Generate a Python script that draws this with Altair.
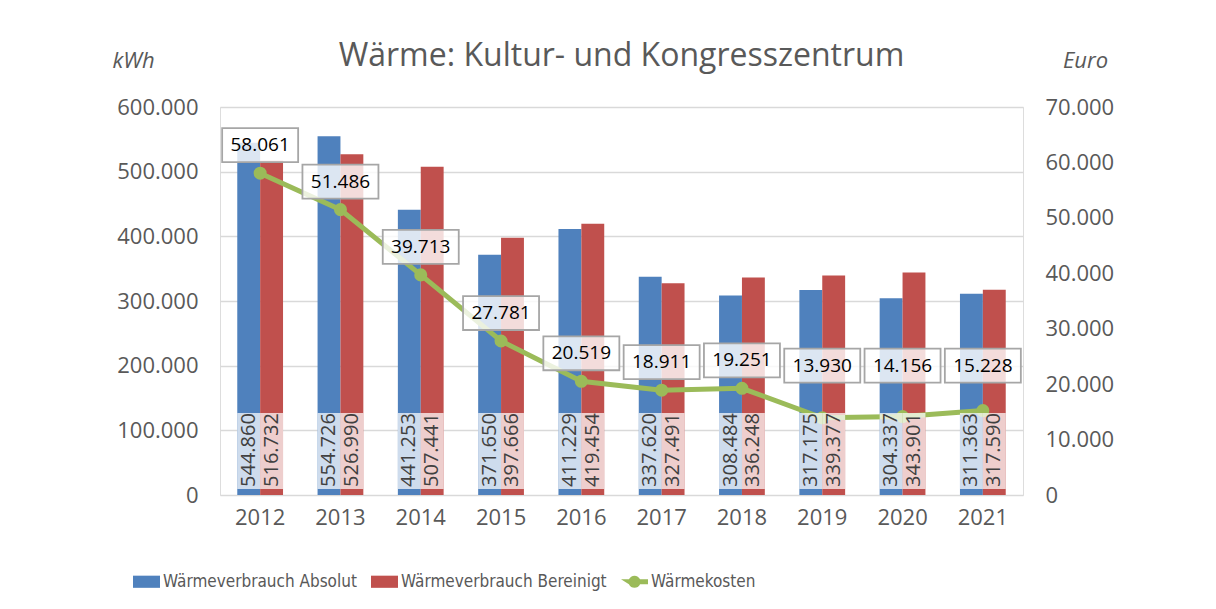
import altair as alt
import pandas as pd

# ---------------- data ----------------
years = ["2012", "2013", "2014", "2015", "2016", "2017", "2018", "2019", "2020", "2021"]
absolut = [544860, 554726, 441253, 371650, 411229, 337620, 308484, 317175, 304337, 311363]
bereinigt = [516732, 526990, 507441, 397666, 419454, 327491, 336248, 339377, 343901, 317590]
kosten = [58061, 51486, 39713, 27781, 20519, 18911, 19251, 13930, 14156, 15228]

SER_ABS = "Wärmeverbrauch Absolut"
SER_BER = "Wärmeverbrauch Bereinigt"
SER_COST = "Wärmekosten"
series_order = [SER_ABS, SER_BER, SER_COST]

kwh_ticks = [0, 100000, 200000, 300000, 400000, 500000, 600000]
euro_ticks = [0, 10000, 20000, 30000, 40000, 50000, 60000, 70000]


def de(v):
    return f"{v:,}".replace(",", ".")


bars_df = pd.DataFrame({
    "year": years * 2,
    "series": [SER_ABS] * len(years) + [SER_BER] * len(years),
    "kwh": absolut + bereinigt,
})
bars_df["label"] = bars_df["kwh"].map(de)

cost_df = pd.DataFrame({"year": years, "series": SER_COST, "euro": kosten})
cost_df["label"] = cost_df["euro"].map(de)

# ---------------- style ----------------
BLUE, RED, GREEN = "#4F81BD", "#C0504D", "#9BBB59"
GREY = "#595959"
FONT = "Open Sans"
LEG_FONT = "Liberation Sans Narrow, DejaVu Sans Condensed, sans-serif"
GERMAN = "replace(format(datum.value, ','), ',', '.')"

BOX_LO, BOX_HI = 9300, 126800  # kWh band in which bar labels sit
RECT = "M-1,-0.45L1,-0.45L1,0.45L-1,0.45Z"
LINEDOT = ("M-1,-0.18L-0.412,-0.18A0.45,0.45 0 0,1 0.412,-0.18L1,-0.18L1,0.18"
           "L0.412,0.18A0.45,0.45 0 0,1 -0.412,0.18Z")
LABELBOX = "M-1,-0.447L1,-0.447L1,0.447L-1,0.447Z"

kscale = alt.Scale(domain=[0, 600000], nice=False, zero=True)
escale = alt.Scale(domain=[0, 70000], nice=False, zero=True)

xenc = alt.X(
    "year:N",
    sort=years,
    scale=alt.Scale(paddingInner=0.43, paddingOuter=0.215),
    axis=alt.Axis(title=None, labelAngle=0, labelFontSize=22, labelColor=GREY,
                  labelFont=FONT, labelPadding=12, ticks=False, domain=False, grid=False),
)
xoff = alt.XOffset("series:N", scale=alt.Scale(domain=[SER_ABS, SER_BER]))

left_axis = alt.Axis(
    title="kWh", titleAngle=0, titleX=-87, titleY=-47, titleAlign="center",
    titleBaseline="middle", titleFontStyle="italic", titleFontSize=22,
    titleFontWeight="normal", titleColor=GREY, titleFont=FONT,
    values=kwh_ticks, labelExpr=GERMAN, labelFontSize=22, labelColor=GREY,
    labelFont=FONT, labelPadding=22, ticks=False, domain=False,
    grid=True, gridColor="#D9D9D9", gridWidth=1.3,
)
right_axis = alt.Axis(
    title="Euro", orient="right", titleAngle=0, titleX=62, titleY=-47,
    titleAlign="center", titleBaseline="middle", titleFontStyle="italic",
    titleFontSize=22, titleFontWeight="normal", titleColor=GREY, titleFont=FONT,
    values=euro_ticks, labelExpr=GERMAN, labelFontSize=22, labelColor=GREY,
    labelFont=FONT, labelPadding=22, ticks=False, domain=False, grid=False,
)

color_bars = alt.Color("series:N", scale=alt.Scale(domain=[SER_ABS, SER_BER], range=[BLUE, RED]),
                       legend=None)

bars = alt.Chart(bars_df).mark_bar().encode(
    x=xenc, xOffset=xoff, y=alt.Y("kwh:Q", scale=kscale, axis=left_axis), color=color_bars
)

line = alt.Chart(cost_df).mark_line(color=GREEN, strokeWidth=5).encode(
    x=xenc, y=alt.Y("euro:Q", scale=escale, axis=right_axis)
)
points = alt.Chart(cost_df).mark_circle(color=GREEN, size=170, opacity=1).encode(
    x=xenc, y=alt.Y("euro:Q", scale=escale, axis=None)
)

label_boxes = alt.Chart(bars_df).mark_bar(color="white", opacity=0.72).encode(
    x=xenc, xOffset=xoff,
    y=alt.YDatum(BOX_HI, scale=kscale, axis=None),
    y2=alt.Y2Datum(BOX_LO),
)
bar_text = alt.Chart(bars_df).mark_text(
    angle=270, align="left", baseline="middle", dx=2, fontSize=20, font=FONT, color="#404040"
).encode(
    x=xenc, xOffset=xoff, y=alt.YDatum(BOX_LO, scale=kscale, axis=None), text="label:N"
)

cost_lab = alt.Chart(cost_df).transform_calculate(lp="max(datum.euro, 18300)")
cost_boxes = cost_lab.mark_point(
    shape=LABELBOX, size=5776, filled=True, fill="white", fillOpacity=0.8,
    stroke="#A6A6A6", strokeOpacity=1, strokeWidth=1.8, opacity=1, yOffset=-28
).encode(x=xenc, y=alt.Y("lp:Q", scale=escale, axis=None))
cost_text = cost_lab.mark_text(
    fontSize=19, font=FONT, color="black", baseline="middle", yOffset=-28
).encode(x=xenc, y=alt.Y("lp:Q", scale=escale, axis=None), text="label:N")

leg = alt.Legend(
    title=None, orient="none", legendX=-87, legendY=461, direction="horizontal",
    symbolSize=729, symbolOpacity=1, symbolStrokeWidth=0, labelFontSize=17,
    labelFont=LEG_FONT, labelColor=GREY, columnPadding=14, labelOffset=3,
    labelLimit=500,
)
legend_layer = alt.Chart(cost_df).mark_point(filled=True, opacity=0).encode(
    x=xenc,
    y=alt.Y("euro:Q", scale=escale, axis=None),
    fill=alt.Fill("series:N", scale=alt.Scale(domain=series_order, range=[BLUE, RED, GREEN]),
                  legend=leg),
    shape=alt.Shape("series:N", scale=alt.Scale(domain=series_order, range=[RECT, RECT, LINEDOT]),
                    legend=leg),
)

chart = alt.layer(
    bars, line, points, label_boxes, bar_text, cost_boxes, cost_text, legend_layer
).resolve_scale(
    y="independent", color="independent"
).properties(
    width=803, height=388,
    title=alt.TitleParams("Wärme: Kultur- und Kongresszentrum", fontSize=32, font=FONT,
                          fontWeight="normal", color=GREY, offset=-24, anchor="middle"),
    autosize=alt.AutoSizeParams(type="none"),
    padding={"left": 212, "top": 99, "right": 185, "bottom": 100},
).configure_view(stroke=None).configure(background="white")

chart.save("out.html", embed_options={"renderer": "svg", "actions": False})
